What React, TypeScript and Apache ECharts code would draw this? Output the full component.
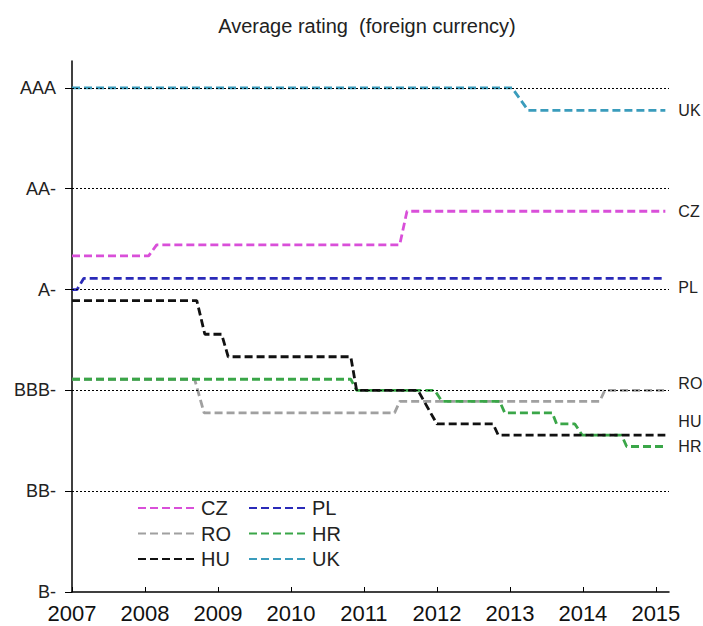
import React, { useEffect, useRef } from "react";
import * as echarts from "echarts";

const TITLE = "Average rating  (foreign currency)";
const FONT = "'Liberation Sans', Arial, sans-serif";

// rating scale: notches above B-
const ratingValues = [0, 3, 6, 9, 12, 15];
const ratingLabels = ["B-", "BB-", "BBB-", "A-", "AA-", "AAA"];
const yearTicks = [2007, 2008, 2009, 2010, 2011, 2012, 2013, 2014, 2015];

// [year, average rating]
const CZ = [[2007.0, 10.0], [2008.05, 10.0], [2008.16, 10.33], [2011.49, 10.33], [2011.59, 11.33], [2015.13, 11.33]];
const PL = [[2007.0, 9.0], [2007.07, 9.0], [2007.16, 9.33], [2015.13, 9.33]];
const RO = [[2007.0, 6.33], [2008.68, 6.33], [2008.81, 5.33], [2011.42, 5.33], [2011.49, 5.67], [2014.23, 5.67], [2014.3, 6.0], [2015.13, 6.0]];
const HR = [[2007.0, 6.33], [2010.82, 6.33], [2010.9, 6.0], [2011.97, 6.0], [2012.07, 5.67], [2012.86, 5.67], [2012.93, 5.33], [2013.58, 5.33], [2013.64, 5.0], [2013.89, 5.0], [2013.99, 4.67], [2014.53, 4.67], [2014.6, 4.33], [2015.13, 4.33]];
const HU = [[2007.0, 8.67], [2008.71, 8.67], [2008.82, 7.67], [2009.05, 7.67], [2009.14, 7.0], [2010.82, 7.0], [2010.9, 6.0], [2011.74, 6.0], [2012.0, 5.0], [2012.77, 5.0], [2012.84, 4.67], [2015.13, 4.67]];
const UK = [[2007.0, 15.0], [2013.03, 15.0], [2013.25, 14.33], [2015.13, 14.33]];

const seriesDefs = [
  { name: "CZ", data: CZ, color: "#d94fd9", labelDy: 0 },
  { name: "PL", data: PL, color: "#2a2ab8", labelDy: 9 },
  { name: "RO", data: RO, color: "#a0a0a0", labelDy: -7 },
  { name: "HR", data: HR, color: "#3aa648", labelDy: 0 },
  { name: "HU", data: HU, color: "#111111", labelDy: -14 },
  { name: "UK", data: UK, color: "#3a9cbc", labelDy: 0 },
];

export default function App() {
  const ref = useRef<HTMLDivElement>(null);
  useEffect(() => {
    if (!ref.current) return;
    const chart = echarts.init(ref.current, undefined, { renderer: "svg" });
    const legendCommon = {
      orient: "vertical",
      padding: 0,
      itemWidth: 58,
      itemHeight: 14,
      itemGap: 5.5,
      itemStyle: { opacity: 0 },
      textStyle: { fontSize: 20, lineHeight: 20, color: "#222", fontFamily: FONT },
    };
    chart.setOption({
      animation: false,
      backgroundColor: "#fff",
      title: {
        text: TITLE,
        left: 362,
        textAlign: "center",
        top: 11,
        textStyle: { fontSize: 20, fontWeight: "normal", color: "#222", fontFamily: FONT },
      },
      legend: [
        { ...legendCommon, left: 137, top: 498, data: ["CZ", "RO", "HU"] },
        { ...legendCommon, left: 248, top: 498, data: ["PL", "HR", "UK"] },
      ],
      grid: { left: 72, right: 34, top: 61, bottom: 34, containLabel: false },
      xAxis: {
        type: "value",
        min: 2007,
        max: 2015.18,
        splitLine: { show: false },
        axisLine: { show: true, lineStyle: { color: "#000", width: 1.5 } },
        axisTick: { show: true, inside: true, length: 5, lineStyle: { color: "#000" }, customValues: yearTicks },
        axisLabel: {
          customValues: yearTicks,
          formatter: (v: number) => String(Math.round(v)),
          fontSize: 22,
          color: "#111",
          margin: 10,
          fontFamily: FONT,
        },
      },
      yAxis: {
        type: "value",
        min: 0,
        max: 15.8,
        splitLine: { show: false },
        axisLine: { show: true, lineStyle: { color: "#000", width: 1.5 } },
        axisTick: { show: true, inside: false, length: 7, lineStyle: { color: "#000" }, customValues: ratingValues },
        axisLabel: {
          customValues: ratingValues,
          formatter: (v: number) => {
            const i = ratingValues.indexOf(Math.round(v));
            return i >= 0 ? ratingLabels[i] : "";
          },
          fontSize: 18,
          color: "#222",
          margin: 16,
          padding: [0, 0, 8, 0],
          fontFamily: FONT,
        },
      },
      series: [
        {
          name: "grid",
          type: "line",
          data: [],
          z: 1,
          silent: true,
          markLine: {
            silent: true,
            symbol: "none",
            label: { show: false },
            lineStyle: { color: "#000", type: [2, 2], width: 1 },
            data: ratingValues.filter((v) => v > 0).map((v) => ({ yAxis: v })),
          },
        },
        ...seriesDefs.map((s) => ({
          name: s.name,
          type: "line",
          data: s.data,
          symbol: "none",
          z: 3,
          color: s.color,
          lineStyle: { color: s.color, width: 2.8, type: [8, 4] },
          endLabel: {
            show: true,
            formatter: s.name,
            distance: 13,
            offset: [0, s.labelDy],
            fontSize: 16,
            color: "#222",
            fontFamily: FONT,
          },
        })),
      ],
    });
    return () => chart.dispose();
  }, []);
  return (
    <div
      ref={ref}
      style={{ position: "fixed", left: 0, top: 0, width: 703, height: 626, background: "#fff" }}
    />
  );
}
